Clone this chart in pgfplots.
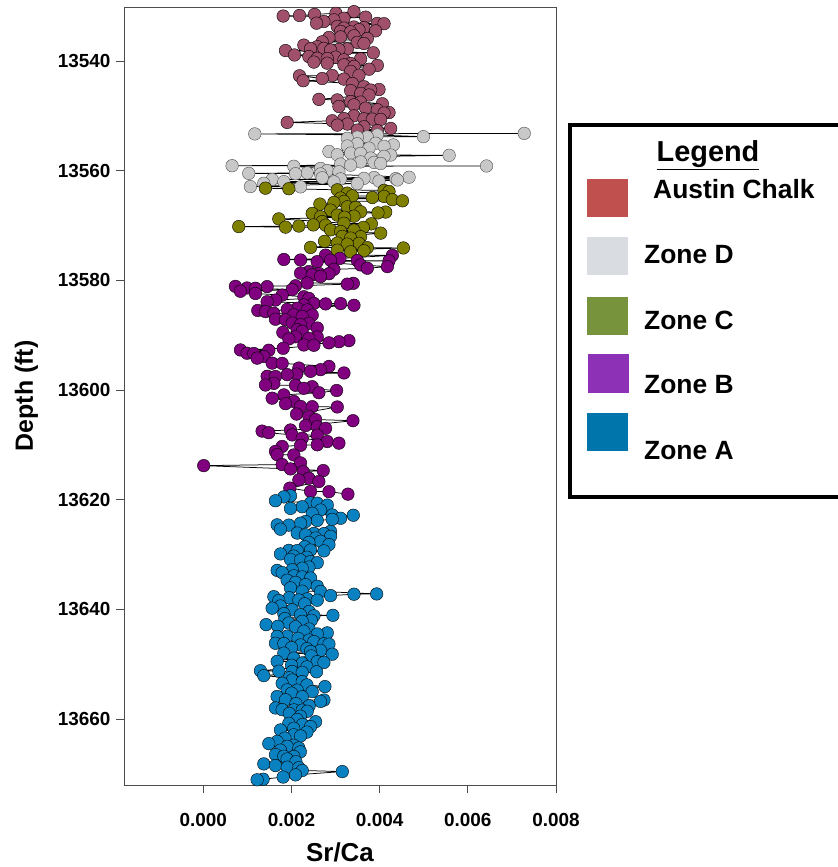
\documentclass[border=0pt]{standalone}
\usepackage{fontspec}
\setmainfont{Liberation Sans}
\usepackage{pgfplots}
\pgfplotsset{compat=1.18}
\definecolor{acM}{HTML}{A0506A}
\definecolor{zdM}{HTML}{C8C8C8}
\definecolor{zcM}{HTML}{808000}
\definecolor{zbM}{HTML}{800080}
\definecolor{zaM}{HTML}{0A82C2}
\definecolor{acL}{HTML}{C0504D}
\definecolor{zdL}{HTML}{D9DCE1}
\definecolor{zcL}{HTML}{77933C}
\definecolor{zbL}{HTML}{8D32B6}
\definecolor{zaL}{HTML}{0075AB}
\pgfplotstableread{
x y
0.003417 13531.0
0.003008 13531.3
0.002523 13531.5
0.002182 13531.7
0.001811 13531.8
0.003682 13532.0
0.003189 13532.2
0.002962 13532.5
0.002735 13532.8
0.002568 13533.1
0.003947 13533.15
0.004099 13533.2
0.003038 13533.7
0.003417 13533.8
0.003644 13533.9
0.003189 13534.0
0.003530 13534.3
0.003909 13534.5
0.003114 13534.6
0.003341 13534.7
0.003417 13535.4
0.003114 13535.6
0.002849 13535.7
0.003720 13535.9
0.002697 13536.5
0.003492 13536.6
0.003644 13536.8
0.002280 13537.1
0.002583 13537.4
0.002735 13537.7
0.002432 13537.75
0.003265 13537.8
0.003076 13537.9
0.002886 13538.0
0.001864 13538.1
0.003856 13538.5
0.002068 13538.9
0.002394 13539.2
0.003000 13539.3
0.002583 13539.5
0.002811 13539.55
0.003568 13539.6
0.003189 13539.8
0.002508 13540.2
0.002811 13540.4
0.003341 13540.45
0.003189 13540.7
0.003947 13540.8
0.003417 13541.0
0.003758 13541.5
0.003341 13541.9
0.003530 13542.6
0.002924 13542.65
0.002182 13542.7
0.002697 13543.2
0.003189 13543.3
0.002265 13543.6
0.003379 13544.1
0.003644 13544.7
0.003985 13545.2
0.003795 13545.3
0.003341 13545.4
0.003568 13545.9
0.003758 13546.2
0.002621 13547.0
0.003038 13547.1
0.003341 13547.4
0.003568 13547.5
0.004061 13547.8
0.003417 13548.0
0.003076 13548.3
0.003682 13548.6
0.003947 13548.9
0.004212 13549.4
0.004099 13549.5
0.003417 13550.0
0.003189 13550.5
0.003644 13550.55
0.003833 13550.6
0.004023 13550.65
0.002924 13550.9
0.001902 13551.2
0.003265 13551.5
0.003038 13551.7
0.003644 13552.0
0.004250 13552.3
0.003492 13552.6
0.003947 13552.7
}\ac
\pgfplotstableread{
x y
0.007280 13553.2
0.001167 13553.3
0.003947 13553.5
0.004993 13553.8
0.003720 13553.85
0.003493 13553.9
0.003265 13554.1
0.003909 13555.0
0.003493 13555.1
0.004311 13555.3
0.003265 13555.5
0.004099 13555.55
0.003758 13555.9
0.002849 13556.5
0.003341 13556.8
0.003568 13556.85
0.003038 13557.1
0.004250 13557.15
0.005576 13557.2
0.004099 13557.4
0.003796 13557.7
0.003568 13558.4
0.003872 13558.5
0.004023 13558.7
0.003114 13558.8
0.003341 13559.0
0.000652 13559.1
0.006424 13559.15
0.002053 13559.2
0.002659 13559.6
0.002811 13560.0
0.003076 13560.2
0.002356 13560.4
0.001030 13560.5
0.002091 13560.55
0.002659 13560.6
0.004667 13561.2
0.003872 13561.25
0.002697 13561.3
0.003644 13561.4
0.004364 13561.45
0.003114 13561.5
0.001561 13561.6
0.004402 13561.7
0.003985 13561.9
0.001826 13562.0
0.002962 13562.05
0.001371 13562.3
0.003493 13562.35
0.001068 13562.9
0.002205 13562.95
}\zd
\pgfplotstableread{
x y
0.001409 13563.2
0.001939 13563.3
0.003038 13563.5
0.004099 13563.6
0.004212 13563.8
0.003265 13564.1
0.003379 13564.6
0.004099 13564.7
0.003833 13564.9
0.003114 13565.0
0.004288 13565.3
0.004516 13565.5
0.003190 13565.6
0.002962 13565.8
0.002644 13566.1
0.003265 13566.6
0.003455 13566.7
0.002886 13567.2
0.003568 13567.5
0.004137 13567.55
0.003962 13567.7
0.002470 13567.8
0.003038 13568.1
0.003417 13568.3
0.002659 13568.4
0.003205 13568.5
0.001712 13568.8
0.002697 13569.3
0.003190 13569.6
0.003811 13569.7
0.002493 13569.9
0.002773 13569.95
0.002167 13570.1
0.000803 13570.2
0.001864 13570.3
0.003629 13570.35
0.002886 13570.8
0.003417 13570.85
0.003114 13571.1
0.004023 13571.4
0.003152 13572.0
0.003568 13572.05
0.003341 13572.3
0.002750 13572.9
0.003038 13573.2
0.003531 13573.25
0.003265 13573.4
0.002432 13574.0
0.003720 13574.05
0.004538 13574.1
0.003038 13574.5
0.003644 13574.6
0.003341 13574.8
}\zc
\pgfplotstableread{
x y
0.002773 13575.4
0.004288 13575.45
0.003099 13576.0
0.001826 13576.2
0.002205 13576.3
0.002886 13576.35
0.003493 13576.4
0.004212 13576.45
0.002583 13576.6
0.003568 13577.2
0.004175 13577.5
0.003720 13577.8
0.002962 13578.0
0.002394 13578.4
0.002205 13578.7
0.002621 13578.75
0.002849 13578.8
0.002470 13579.0
0.002659 13579.3
0.002356 13580.5
0.003402 13580.55
0.003265 13580.7
0.002091 13581.0
0.000727 13581.1
0.001447 13581.15
0.000992 13581.4
0.001182 13581.45
0.002015 13581.7
0.000841 13582.0
0.001182 13582.4
0.001788 13582.7
0.002280 13583.0
0.002394 13583.3
0.001636 13583.6
0.001447 13583.9
0.002508 13584.2
0.003114 13584.25
0.002773 13584.3
0.002280 13584.5
0.003417 13584.55
0.002129 13585.1
0.001902 13585.3
0.002356 13585.4
0.001235 13585.5
0.001409 13585.7
0.001599 13586.0
0.002053 13586.3
0.002470 13586.35
0.002243 13586.6
0.001636 13587.1
0.001864 13587.2
0.002015 13587.8
0.002394 13587.85
0.002205 13588.1
0.002584 13588.7
0.002129 13589.0
0.002243 13589.3
0.001803 13589.5
0.002091 13590.3
0.002584 13590.35
0.002394 13590.6
0.001939 13590.7
0.003303 13591.0
0.003076 13591.2
0.002849 13591.4
0.002280 13591.8
0.002508 13591.85
0.001811 13592.4
0.000841 13592.7
0.001485 13592.75
0.000992 13593.3
0.001144 13593.35
0.001371 13593.9
0.001220 13594.2
0.001561 13595.1
0.001788 13595.15
0.002849 13595.7
0.002167 13596.0
0.002659 13596.3
0.002432 13596.6
0.003190 13596.9
0.002114 13597.1
0.001902 13597.2
0.001447 13597.5
0.001636 13597.55
0.001599 13598.8
0.001409 13599.1
0.002091 13599.15
0.002470 13599.4
0.002280 13599.7
0.003023 13600.1
0.002621 13600.5
0.001826 13600.9
0.001561 13601.5
0.002053 13602.1
0.001864 13602.5
0.002205 13603.0
0.002470 13603.05
0.003038 13603.1
0.002114 13604.4
0.002394 13604.8
0.002546 13605.4
0.003394 13605.6
0.002318 13606.5
0.002584 13606.7
0.002773 13607.0
0.001977 13607.3
0.001333 13607.5
0.001485 13607.8
0.002015 13608.2
0.002584 13608.25
0.002243 13608.8
0.002811 13609.4
0.003076 13609.7
0.002584 13610.0
0.002205 13610.1
0.001788 13610.3
0.001636 13611.2
0.001674 13611.8
0.002053 13611.85
0.002205 13613.3
0.001788 13613.6
0.000008 13613.8
0.001977 13614.4
0.002720 13614.7
0.002265 13614.9
0.002394 13616.1
0.002167 13616.4
0.002621 13616.7
0.001962 13617.9
0.002432 13618.5
0.002849 13618.55
0.003280 13619.0
}\zb
\pgfplotstableread{
x y
0.001977 13619.3
0.001826 13619.5
0.001636 13620.2
0.002432 13620.6
0.002584 13620.65
0.002811 13621.0
0.002243 13621.3
0.001977 13621.6
0.002659 13621.9
0.002470 13622.5
0.002924 13622.8
0.003402 13622.85
0.003114 13623.4
0.002924 13623.6
0.002584 13623.8
0.002318 13624.0
0.002205 13624.3
0.001674 13624.6
0.001939 13624.65
0.001750 13625.4
0.002886 13625.8
0.002129 13626.1
0.002508 13626.15
0.002735 13626.2
0.002318 13626.4
0.002886 13626.7
0.002550 13627.0
0.002659 13627.6
0.002394 13627.8
0.002849 13628.2
0.002300 13628.6
0.002432 13629.2
0.001939 13629.25
0.002129 13629.3
0.002735 13629.35
0.001750 13629.9
0.002050 13630.3
0.002350 13630.5
0.001977 13630.9
0.002205 13631.0
0.002432 13631.3
0.002584 13631.5
0.002394 13632.3
0.002243 13632.5
0.002015 13632.8
0.001674 13632.9
0.001788 13633.3
0.002053 13633.9
0.002243 13634.1
0.002432 13634.3
0.001900 13634.7
0.002091 13635.1
0.002318 13635.5
0.002584 13635.8
0.001977 13636.1
0.002243 13636.7
0.002659 13636.75
0.003932 13637.2
0.003417 13637.25
0.002886 13637.5
0.001599 13637.7
0.001950 13637.9
0.002356 13638.1
0.002167 13638.3
0.002584 13638.35
0.001712 13638.4
0.002300 13639.0
0.001750 13639.4
0.001561 13639.8
0.002015 13640.1
0.002400 13640.4
0.001826 13640.8
0.002205 13641.0
0.002939 13641.1
0.002508 13641.2
0.001850 13641.7
0.002450 13642.0
0.002243 13642.2
0.001939 13642.5
0.001424 13642.8
0.001690 13643.1
0.002091 13643.2
0.002400 13643.6
0.002280 13644.0
0.002811 13644.3
0.002584 13644.5
0.001902 13644.9
0.001674 13644.95
0.002150 13645.3
0.002400 13645.6
0.002508 13645.9
0.001636 13646.2
0.001826 13646.25
0.002735 13646.3
0.002849 13646.35
0.002205 13646.5
0.002000 13647.0
0.002350 13647.2
0.002659 13647.5
0.002432 13647.7
0.001826 13648.0
0.002924 13648.2
0.002450 13648.5
0.002053 13648.9
0.001674 13649.5
0.002584 13649.55
0.002735 13649.7
0.002243 13649.8
0.002000 13650.2
0.002350 13650.5
0.001295 13651.2
0.001712 13651.3
0.002015 13651.35
0.002568 13651.4
0.002243 13651.5
0.001371 13652.1
0.001950 13652.5
0.002015 13652.9
0.002243 13653.2
0.001788 13653.5
0.002350 13653.8
0.002758 13654.1
0.001902 13654.7
0.002129 13654.75
0.002470 13655.0
0.002000 13655.3
0.001674 13655.9
0.002243 13655.95
0.001864 13656.5
0.002735 13656.55
0.002659 13656.8
0.002100 13657.2
0.002400 13657.6
0.001636 13658.0
0.001788 13658.3
0.002053 13658.35
0.002243 13658.4
0.002356 13658.6
0.001950 13659.0
0.002200 13659.5
0.002129 13660.1
0.002546 13660.5
0.001939 13660.8
0.002250 13661.0
0.002432 13661.4
0.002050 13661.7
0.001750 13662.0
0.002350 13662.4
0.002053 13662.9
0.002205 13663.1
0.001850 13663.5
0.001674 13664.1
0.001485 13664.5
0.002050 13664.8
0.001902 13665.0
0.002167 13665.3
0.001750 13665.7
0.002200 13666.0
0.001636 13666.5
0.001826 13666.8
0.002053 13666.85
0.001900 13667.3
0.002100 13667.8
0.001371 13668.2
0.001636 13668.5
0.001902 13668.8
0.002167 13668.9
0.002243 13669.4
0.003152 13669.6
0.002091 13670.2
0.001811 13670.6
0.001356 13671.0
0.001220 13671.1
}\za
\begin{document}
\begin{tikzpicture}[x=1bp,y=1bp]
\useasboundingbox (0,0) rectangle (838,867);
\begin{axis}[
  at={(124bp,82bp)}, anchor=south west,
  width=432bp, height=778bp, scale only axis,
  xmin=-0.0018, xmax=0.008,
  ymin=13530.15, ymax=13672.05,
  y dir=reverse,
  axis line style={draw=black!70, line width=0.8bp},
  tick style={draw=black!70, line width=0.8bp},
  tick align=outside, major tick length=8bp,
  xtick pos=bottom, ytick pos=left,
  scaled x ticks=false, scaled y ticks=false,
  xtick={0,0.002,0.004,0.006,0.008},
  xticklabels={0.000,0.002,0.004,0.006,0.008},
  ytick={13540,13560,13580,13600,13620,13640,13660},
  yticklabels={13540,13560,13580,13600,13620,13640,13660},
  ticklabel style={font=\bfseries\fontsize{19}{20}\selectfont},
  xticklabel style={yshift=-17bp},
  yticklabel style={xshift=-2bp},
  xlabel={Sr/Ca},
  ylabel={Depth (ft)},
  xlabel style={font=\bfseries\fontsize{26}{28}\selectfont, at={(axis description cs:0.5,-0.086)}, anchor=center},
  ylabel style={font=\bfseries\fontsize{25}{27}\selectfont, at={(axis description cs:-0.226,0.5)}, anchor=center, rotate=0},
  every axis plot/.append style={draw=black, line width=0.75bp, mark=*, mark size=6.3bp},
]
\addplot[mark options={draw=black, line width=0.4bp, fill=acM}] table {\ac};
\addplot[mark options={draw=black!70, line width=0.4bp, fill=zdM}] table {\zd};
\addplot[mark options={draw=black, line width=0.4bp, fill=zcM}] table {\zc};
\addplot[mark options={draw=black, line width=0.4bp, fill=zbM}] table {\zb};
\addplot[mark options={draw=black, line width=0.4bp, fill=zaM}] table {\za};
\end{axis}
% legend box
\draw[line width=4bp] (570,370) rectangle (850,742);
\node[font=\bfseries\fontsize{29}{30}\selectfont, anchor=base] at (708,705) {\underline{Legend}};
\fill[acL] (587,650) rectangle (628,688);
\fill[zdL] (587,592) rectangle (628,630);
\fill[zcL] (587,532) rectangle (628,570);
\fill[zbL] (588,474) rectangle (629,513);
\fill[zaL] (587,416) rectangle (628,454);
\begin{scope}[every node/.style={font=\bfseries\fontsize{26.5}{28}\selectfont, anchor=west, inner sep=0pt}]
\node at (653,678) {Austin Chalk};
\node at (644,612) {Zone D};
\node at (644,547) {Zone C};
\node at (644,482) {Zone B};
\node at (644,416) {Zone A};
\end{scope}
\end{tikzpicture}
\end{document}
